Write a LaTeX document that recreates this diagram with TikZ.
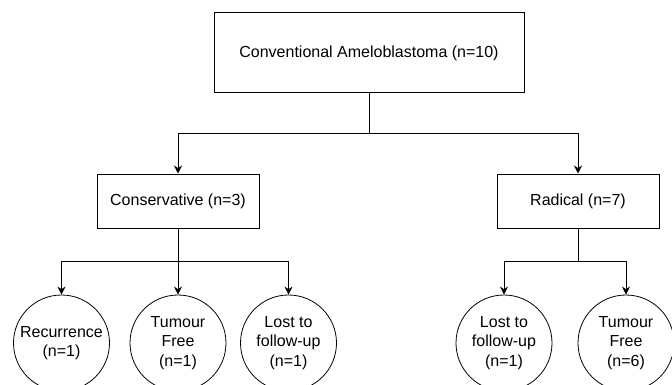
\documentclass[tikz,border=0pt]{standalone}
\usepackage{fontspec}
\setmainfont{Liberation Sans}
\usetikzlibrary{arrows.meta}
\tikzset{
  box/.style={draw, line width=1pt, minimum width=162pt, minimum height=54pt, inner sep=0pt},
  outcome/.style={draw, circle, line width=0.8pt, minimum size=96pt, inner sep=0pt, align=center},
  link/.style={line width=1pt, -{Stealth[length=8pt,width=8pt]}}
}
\begin{document}
\begin{tikzpicture}[x=1pt,y=-1pt,font=\fontsize{16}{19.5}\selectfont]
\useasboundingbox (0,0) rectangle (672,385);
% treatment
\node[box, minimum width=310pt, minimum height=80pt] (top) at (369,53) {Conventional Ameloblastoma (n=10)};
\node[box] (cons) at (178,201) {Conservative (n=3)};
\node[box] (rad) at (578,201) {Radical (n=7)};
% outcomes
\node[outcome] (crec) at (61.5,343) {Recurrence\\(n=1)};
\node[outcome] (cfree) at (178,343) {Tumour\\Free\\(n=1)};
\node[outcome] (clost) at (288.5,343) {Lost to\\follow-up\\(n=1)};
\node[outcome] (rlost) at (504,343) {Lost to\\follow-up\\(n=1)};
\node[outcome] (rfree) at (626,343) {Tumour\\Free\\(n=6)};
\coordinate (tsplit) at (369,134);
\coordinate (csplit) at (178,261);
\coordinate (rsplit) at (578,261);
\draw[link] (top) -- (tsplit) -| (cons);
\draw[link] (top) -- (tsplit) -| (rad);
\draw[link] (cons) -- (csplit) -| (crec);
\draw[link] (cons) -- (cfree);
\draw[link] (cons) -- (csplit) -| (clost);
\draw[link] (rad) -- (rsplit) -| (rlost);
\draw[link] (rad) -- (rsplit) -| (rfree);
\end{tikzpicture}
\end{document}
